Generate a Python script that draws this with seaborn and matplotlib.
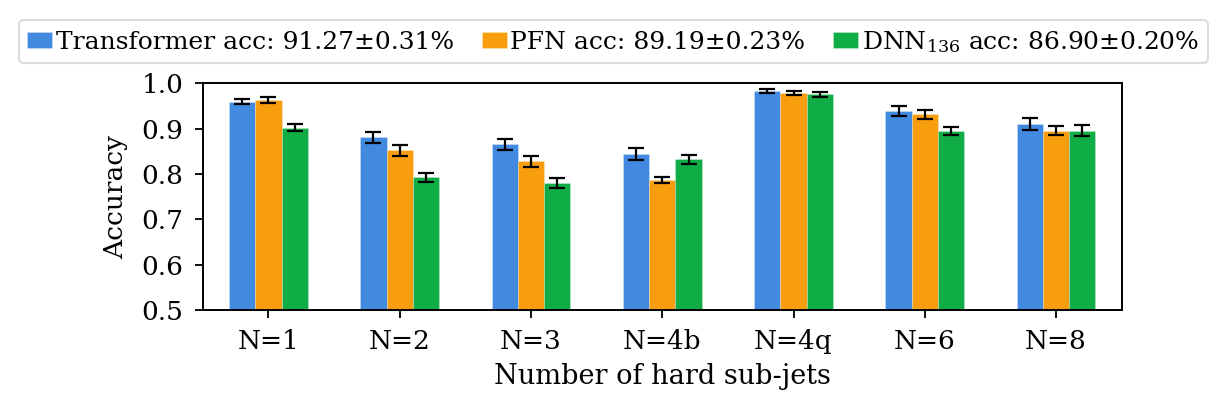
import matplotlib
matplotlib.use("Agg")
import matplotlib.pyplot as plt
import pandas as pd
import seaborn as sns

categories = ["N=1", "N=2", "N=3", "N=4b", "N=4q", "N=6", "N=8"]
models = [
    "Transformer acc: 91.27±0.31%",
    "PFN acc: 89.19±0.23%",
    "DNN$_{136}$ acc: 86.90±0.20%",
]
transformer_acc = [0.960, 0.881, 0.866, 0.845, 0.984, 0.939, 0.910]
transformer_err = [0.006, 0.012, 0.012, 0.013, 0.0045, 0.012, 0.0135]
pfn_acc = [0.964, 0.852, 0.828, 0.787, 0.979, 0.932, 0.896]
pfn_err = [0.0065, 0.013, 0.0125, 0.006, 0.0045, 0.010, 0.010]
dnn_acc = [0.902, 0.793, 0.781, 0.833, 0.976, 0.895, 0.896]
dnn_err = [0.008, 0.0095, 0.011, 0.010, 0.0055, 0.0095, 0.0125]
colors = ["#418AE0", "#F89D0E", "#10AC45"]

sns.set_style("ticks")
plt.rcParams["font.family"] = ["DejaVu Serif"]
plt.rcParams["mathtext.fontset"] = "dejavuserif"
plt.rcParams["font.size"] = 19
plt.rcParams["text.color"] = "black"
plt.rcParams["axes.labelcolor"] = "black"

errors = [transformer_err, pfn_err, dnn_err]
df = pd.DataFrame(
    {
        "category": categories * 3,
        "model": [m for m in models for _ in categories],
        "acc": transformer_acc + pfn_acc + dnn_acc,
    }
)

fig = plt.figure(figsize=(12.29, 4.15), dpi=100)
ax = fig.add_axes([0.165, 0.253, 0.7477, 0.546])
sns.barplot(
    data=df, x="category", y="acc", hue="model", hue_order=models,
    order=categories, palette=colors, saturation=1, width=0.6, gap=0,
    errorbar=None, edgecolor=(1, 1, 1, 0.35), linewidth=0.5, ax=ax,
    legend=True,
)
for container, err in zip(ax.containers, errors):
    xs = [p.get_x() + p.get_width() / 2 for p in container]
    ys = [p.get_height() for p in container]
    ax.errorbar(xs, ys, yerr=err, fmt="none", ecolor="black",
                elinewidth=1.6, capsize=6, capthick=1.6, zorder=3)

ax.set_ylim(0.5, 1.0)
ax.set_xlim(-0.5, 6.5)
ax.set_yticks([0.5, 0.6, 0.7, 0.8, 0.9, 1.0])
ax.set_xlabel("Number of hard sub-jets", fontsize=19.5, labelpad=6)
ax.set_ylabel("Accuracy", fontsize=19, labelpad=10)
for spine in ax.spines.values():
    spine.set_color("black")
    spine.set_linewidth(1.4)
ax.tick_params(axis="both", labelsize=19, length=5.8, width=1.3, pad=8,
               color="black", labelcolor="black")

handles, labels = ax.get_legend_handles_labels()
ax.get_legend().remove()
leg = fig.legend(
    handles, labels, loc="upper center", bbox_to_anchor=(0.4989, 0.952),
    ncol=3, fontsize=18, frameon=True, fancybox=True, handlelength=1.0,
    handleheight=0.6, handletextpad=0.15, columnspacing=1.1,
    borderpad=0.35, borderaxespad=0, labelcolor="black",
)
leg.get_frame().set_edgecolor("#d4d4d4")
leg.get_frame().set_linewidth(1.5)

fig.savefig("out.png", dpi=100)
